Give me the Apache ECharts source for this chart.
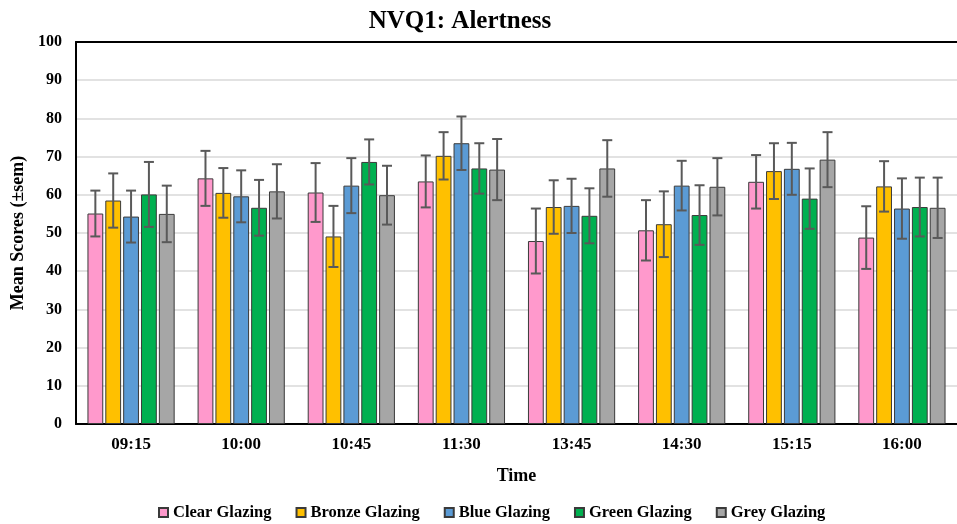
<!DOCTYPE html>
<html>
<head>
<meta charset="utf-8">
<script src="https://cdn.jsdelivr.net/npm/echarts@6/dist/echarts.min.js"></script>
<style>
html,body{margin:0;padding:0;background:#fff;}
#chart{width:957px;height:524px;}
</style>
</head>
<body>
<div id="chart"></div>
<script>
var categories = ['09:15', '10:00', '10:45', '11:30', '13:45', '14:30', '15:15', '16:00'];
var seriesNames = ['Clear Glazing', 'Bronze Glazing', 'Blue Glazing', 'Green Glazing', 'Grey Glazing'];
var clear = [55.1, 64.3, 60.6, 63.5, 47.9, 50.7, 63.4, 48.8];
var clearErr = [6.0, 7.2, 7.7, 6.8, 8.5, 7.9, 7.0, 8.2];
var bronze = [58.5, 60.5, 49.1, 70.2, 56.8, 52.3, 66.2, 62.2];
var bronzeErr = [7.1, 6.5, 8.0, 6.2, 7.0, 8.6, 7.3, 6.6];
var blue = [54.3, 59.6, 62.4, 73.5, 57.1, 62.4, 66.8, 56.4];
var blueErr = [6.8, 6.8, 7.2, 7.0, 7.1, 6.5, 6.8, 7.9];
var green = [60.1, 56.6, 68.6, 66.9, 54.5, 54.7, 59.0, 56.8];
var greenErr = [8.5, 7.3, 5.9, 6.6, 7.2, 7.8, 7.9, 7.7];
var grey = [55.0, 60.9, 59.9, 66.6, 66.9, 62.1, 69.2, 56.6];
var greyErr = [7.4, 7.1, 7.7, 8.0, 7.4, 7.5, 7.2, 7.9];
var yTicks = [0, 10, 20, 30, 40, 50, 60, 70, 80, 90, 100];

var colors = ['#FF99CC', '#FFC000', '#5B9BD5', '#00B050', '#A6A6A6'];
var means = [clear, bronze, blue, green, grey];
var errs = [clearErr, bronzeErr, blueErr, greenErr, greyErr];
var FONT = '"Liberation Serif", "Times New Roman", serif';
var BAR_W = 15.8;
var BAR_GAP = 0.13;

var series = [];
means.forEach(function (vals, i) {
  series.push({
    name: seriesNames[i],
    type: 'bar',
    data: vals,
    barWidth: BAR_W,
    barGap: (BAR_GAP * 100) + '%',
    itemStyle: { color: colors[i], borderColor: '#3a3a3a', borderWidth: 1 },
    z: 2
  });
});
means.forEach(function (vals, i) {
  var data = vals.map(function (v, k) { return [k, v, v - errs[i][k], v + errs[i][k]]; });
  series.push({
    type: 'custom',
    data: data,
    z: 5,
    silent: true,
    renderItem: function (params, api) {
      var k = api.value(0);
      var lo = api.coord([k, api.value(2)]);
      var hi = api.coord([k, api.value(3)]);
      var off = (i - 2) * BAR_W * (1 + BAR_GAP);
      var x = lo[0] + off;
      var cap = 5;
      var st = { stroke: '#595959', lineWidth: 2 };
      return {
        type: 'group',
        children: [
          { type: 'line', shape: { x1: x, y1: lo[1], x2: x, y2: hi[1] }, style: st },
          { type: 'line', shape: { x1: x - cap, y1: lo[1], x2: x + cap, y2: lo[1] }, style: st },
          { type: 'line', shape: { x1: x - cap, y1: hi[1], x2: x + cap, y2: hi[1] }, style: st }
        ]
      };
    }
  });
});

var chart = echarts.init(document.getElementById('chart'));
chart.setOption({
  backgroundColor: '#fff',
  animation: false,
  title: {
    text: 'NVQ1: Alertness',
    left: 455,
    textAlign: 'center',
    top: 4,
    textStyle: { fontFamily: FONT, fontWeight: 'bold', fontSize: 25, color: '#000' }
  },
  legend: {
    data: seriesNames,
    top: 499,
    left: 153,
    itemWidth: 9,
    itemHeight: 9,
    itemGap: 24,
    icon: 'rect',
    textStyle: { fontFamily: FONT, fontWeight: 'bold', fontSize: 16.5, color: '#000' }
  },
  grid: { left: 76, right: -9, top: 42, bottom: 100, containLabel: false },
  xAxis: [{
    type: 'category',
    data: categories,
    name: 'Time',
    nameLocation: 'middle',
    nameGap: 43,
    nameTextStyle: { fontFamily: FONT, fontWeight: 'bold', fontSize: 18, color: '#000' },
    axisLine: { lineStyle: { color: '#000', width: 2 } },
    axisTick: { show: false },
    axisLabel: { fontFamily: FONT, fontWeight: 'bold', fontSize: 17, color: '#000', margin: 12 }
  }, {
    type: 'category',
    data: categories,
    position: 'top',
    axisLine: { lineStyle: { color: '#000', width: 2 } },
    axisTick: { show: false },
    axisLabel: { show: false }
  }],
  yAxis: {
    type: 'value',
    min: 0,
    max: 100,
    interval: 10,
    name: 'Mean Scores (\u00b1sem)',
    nameLocation: 'middle',
    nameGap: 45,
    nameTextStyle: { fontFamily: FONT, fontWeight: 'bold', fontSize: 18, color: '#000' },
    axisLine: { show: true, lineStyle: { color: '#000', width: 2 } },
    axisTick: { show: false },
    axisLabel: { fontFamily: FONT, fontWeight: 'bold', fontSize: 16, color: '#000', margin: 14 },
    splitLine: { lineStyle: { color: '#D9D9D9', width: 1.5 } }
  },
  series: series
});
</script>
</body>
</html>
